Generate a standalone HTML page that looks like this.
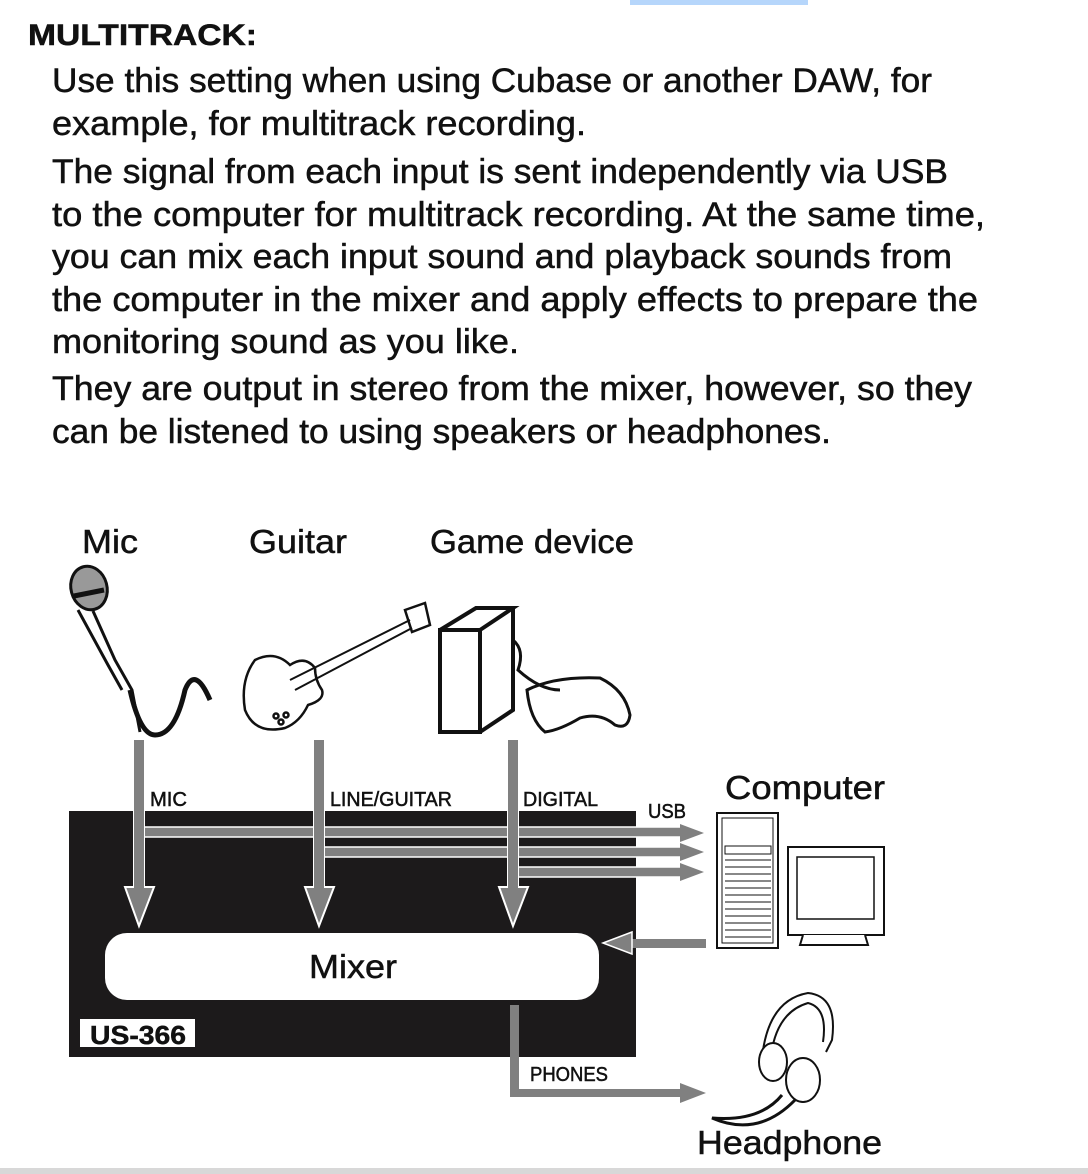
<!DOCTYPE html>
<html><head><meta charset="utf-8"><style>
html,body{margin:0;padding:0;background:#fff;}
svg{display:block;}
text{font-family:"Liberation Sans",sans-serif;fill:#111;stroke:#111;stroke-width:0.5;}
</style></head><body>
<svg width="1088" height="1174" viewBox="0 0 1088 1174" xmlns="http://www.w3.org/2000/svg">
<rect x="630" y="0" width="178" height="5" fill="#b6d6fb"/>
<text x="28" y="45" font-size="30" font-weight="bold" textLength="229" lengthAdjust="spacingAndGlyphs">MULTITRACK:</text>
<g font-size="34">
<text x="52" y="92" textLength="880" lengthAdjust="spacingAndGlyphs">Use this setting when using Cubase or another DAW, for</text>
<text x="52" y="135" textLength="534" lengthAdjust="spacingAndGlyphs">example, for multitrack recording.</text>
<text x="52" y="183" textLength="896" lengthAdjust="spacingAndGlyphs">The signal from each input is sent independently via USB</text>
<text x="52" y="226" textLength="933" lengthAdjust="spacingAndGlyphs">to the computer for multitrack recording. At the same time,</text>
<text x="52" y="268" textLength="900" lengthAdjust="spacingAndGlyphs">you can mix each input sound and playback sounds from</text>
<text x="52" y="311" textLength="926" lengthAdjust="spacingAndGlyphs">the computer in the mixer and apply effects to prepare the</text>
<text x="52" y="353" textLength="467" lengthAdjust="spacingAndGlyphs">monitoring sound as you like.</text>
<text x="52" y="400" textLength="920" lengthAdjust="spacingAndGlyphs">They are output in stereo from the mixer, however, so they</text>
<text x="52" y="443" textLength="779" lengthAdjust="spacingAndGlyphs">can be listened to using speakers or headphones.</text>
</g>
<g font-size="33">
<text x="82" y="553" textLength="56" lengthAdjust="spacingAndGlyphs">Mic</text>
<text x="249" y="553" textLength="98" lengthAdjust="spacingAndGlyphs">Guitar</text>
<text x="430" y="553" textLength="204" lengthAdjust="spacingAndGlyphs">Game device</text>
<text x="725" y="799" textLength="160" lengthAdjust="spacingAndGlyphs">Computer</text>
<text x="697" y="1154" textLength="185" lengthAdjust="spacingAndGlyphs">Headphone</text>
</g>
<!-- mic -->
<g stroke="#111" fill="none" stroke-width="3">
<ellipse cx="89" cy="588" rx="18" ry="22" fill="#999" transform="rotate(-15 89 588)"/>
<path d="M74 596 L104 590" stroke-width="5"/>
<path d="M93 611 L115 660 L132 690 L140 732"/>
<path d="M78 610 L108 665 L122 690"/>
<path d="M130 690 Q140 735 155 735 Q175 735 185 690 Q195 665 210 700" stroke-width="5"/>
</g>
<!-- guitar -->
<g stroke="#111" fill="none" stroke-width="2.5">
<path d="M255 660 Q240 680 245 710 Q255 735 285 728 Q300 722 308 705 Q325 700 322 690 Q315 680 315 668 Q305 655 290 665 Q275 650 255 660Z"/>
<path d="M290 680 L410 620 M295 690 L412 628" stroke-width="2"/>
<path d="M405 610 L425 603 L430 625 L412 632Z"/>
<circle cx="276" cy="716" r="2.5"/><circle cx="286" cy="715" r="2.5"/><circle cx="281" cy="722" r="2.5"/>
</g>
<!-- game box -->
<g stroke="#111" fill="none" stroke-width="4">
<path d="M440 630 L440 732 L480 732 L480 630 Z M440 630 L476 608 L513 608 L480 630 M513 608 L513 710 L480 732"/>
<path d="M513 640 Q525 650 518 670 Q540 690 560 690" stroke-width="3"/>
<path d="M527 690 Q555 676 600 678 Q625 690 630 715 Q628 730 615 725 Q600 712 580 718 Q560 730 545 732 Q530 720 527 690Z" stroke-width="3"/>
</g>
<!-- black box -->
<rect x="69" y="811" width="567" height="246" fill="#1c1a1b"/>
<g fill="#808080" stroke="#fff" stroke-width="1.5">
<rect x="144" y="827" width="540" height="10"/>
<rect x="324" y="847" width="360" height="10"/>
<rect x="518" y="867" width="166" height="10"/>
</g>
<g fill="#808080">
<path d="M680 824 L704 833 L680 842Z"/>
<path d="M680 843 L704 852 L680 861Z"/>
<path d="M680 863 L704 872 L680 881Z"/>
</g>
<g fill="#808080" stroke="#fff" stroke-width="2">
<rect x="134" y="740" width="10" height="150"/>
<path d="M125 887 L154 887 L139 926Z"/>
<rect x="314" y="740" width="10" height="150"/>
<path d="M305 887 L334 887 L319 926Z"/>
<rect x="508" y="740" width="10" height="150"/>
<path d="M499 887 L528 887 L513 926Z"/>
</g>
<rect x="134" y="740" width="10" height="148" fill="#808080"/>
<rect x="314" y="740" width="10" height="148" fill="#808080"/>
<rect x="508" y="740" width="10" height="148" fill="#808080"/>
<rect x="105" y="933" width="494" height="67" rx="22" fill="#fff"/>
<text x="309" y="978" font-size="33" textLength="88" lengthAdjust="spacingAndGlyphs">Mixer</text>
<rect x="630" y="939" width="76" height="9" fill="#808080"/>
<path d="M603 943 L632 932 L632 954Z" fill="#808080" stroke="#fff" stroke-width="1.5"/>
<rect x="510" y="1005" width="9" height="92" fill="#808080"/>
<rect x="510" y="1089" width="175" height="8" fill="#808080"/>
<path d="M680 1083 L706 1093 L680 1103Z" fill="#808080"/>
<rect x="80" y="1019" width="115" height="28" fill="#fff"/>
<text x="90" y="1044" font-size="26" font-weight="bold" textLength="96" lengthAdjust="spacingAndGlyphs">US-366</text>
<g font-size="20">
<text x="150" y="806" textLength="37" lengthAdjust="spacingAndGlyphs">MIC</text>
<text x="330" y="806" textLength="122" lengthAdjust="spacingAndGlyphs">LINE/GUITAR</text>
<text x="523" y="806" textLength="75" lengthAdjust="spacingAndGlyphs">DIGITAL</text>
<text x="648" y="818" textLength="38" lengthAdjust="spacingAndGlyphs">USB</text>
<text x="530" y="1081" textLength="78" lengthAdjust="spacingAndGlyphs">PHONES</text>
</g>
<g stroke="#111" fill="#fff" stroke-width="2">
<rect x="717" y="813" width="61" height="135"/>
<rect x="722" y="818" width="51" height="125" stroke-width="1"/>
<rect x="725" y="846" width="46" height="8" stroke-width="1"/>
<rect x="788" y="847" width="96" height="88"/>
<rect x="797" y="857" width="77" height="62" stroke-width="1.5"/>
<path d="M803 935 L800 945 L868 945 L865 935"/>
</g>
<g stroke="#111" stroke-width="1">
<path d="M725 860h46M725 867h46M725 874h46M725 881h46M725 888h46M725 895h46M725 902h46M725 909h46M725 916h46M725 923h46M725 930h46M725 937h46"/>
</g>
<g stroke="#111" fill="none" stroke-width="2">
<path d="M762 1058 Q768 1000 808 993 Q838 996 832 1040 L826 1052"/>
<path d="M771 1055 Q777 1012 808 1003 Q828 1008 823 1042"/>
<ellipse cx="773" cy="1062" rx="14" ry="19" fill="#fff"/>
<ellipse cx="803" cy="1080" rx="17" ry="22" fill="#fff"/>
<path d="M782 1095 Q760 1122 712 1118 Q758 1138 795 1100" stroke-width="3"/>
</g>
<rect x="0" y="1168" width="1088" height="6" fill="#d8d8d8"/>
</svg>
</body></html>
